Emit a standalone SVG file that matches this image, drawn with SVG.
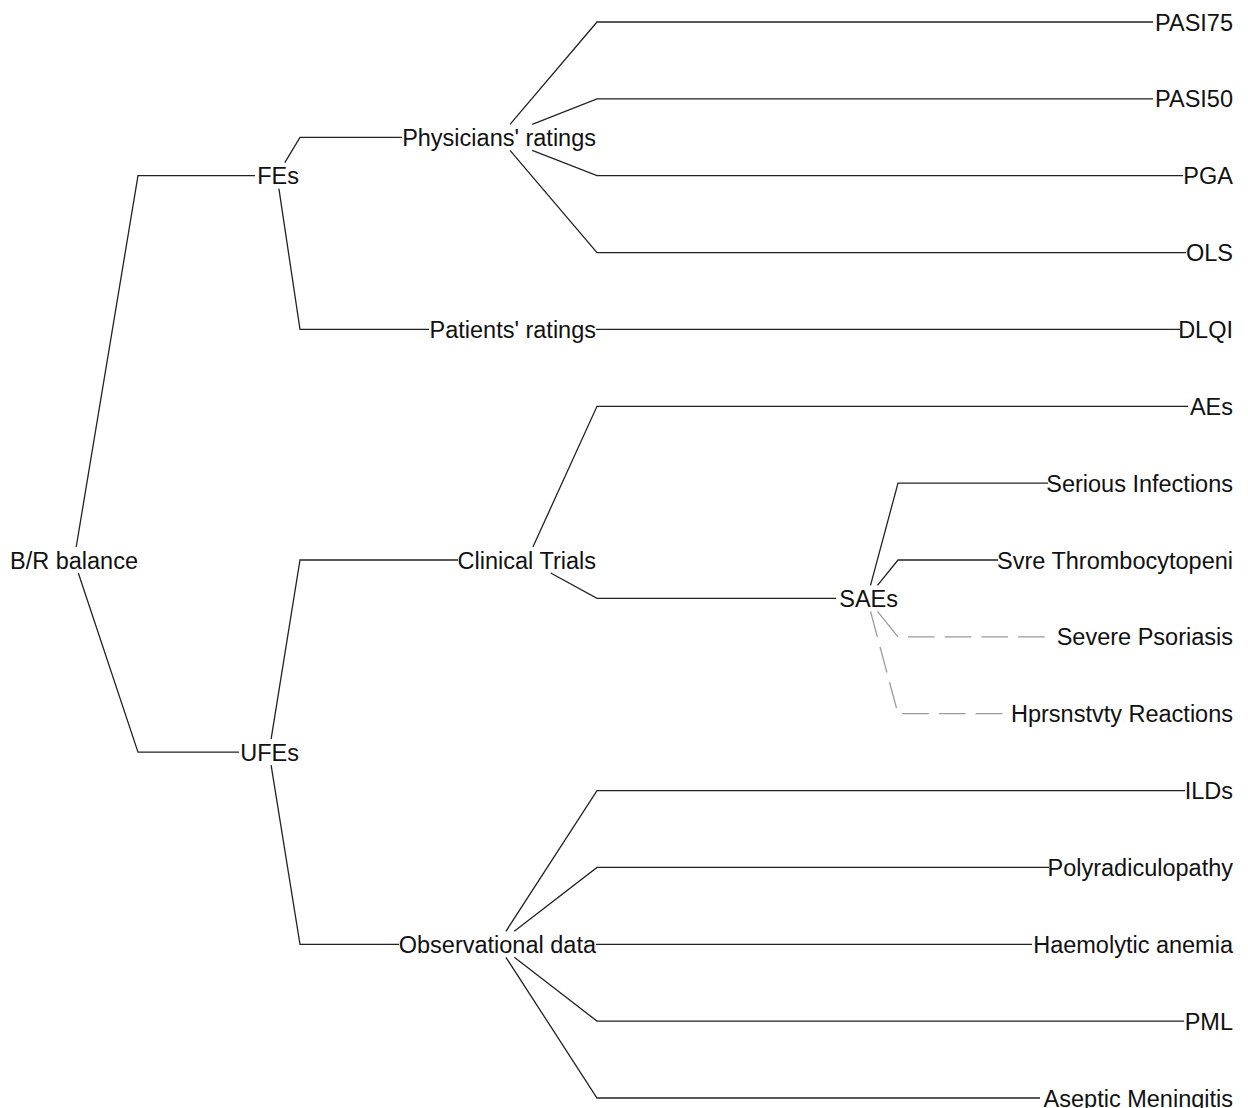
<svg xmlns="http://www.w3.org/2000/svg" width="1248" height="1108" viewBox="0 0 1248 1108">
<style>
.bg{fill:#ffffff}
.e{fill:none;stroke:#222222;stroke-width:1.3}
.d{fill:none;stroke:#9a9a9a;stroke-width:1.3}
text{font-family:"Liberation Sans",Arial,sans-serif;font-size:23.5px;fill:#111111;text-anchor:end}
</style>
<rect class="bg" x="0" y="0" width="1248" height="1108"/>
<g id="connectors">
<path class="e" d="M76.2 547 L138 175.7 H255"/>
<path class="e" d="M78.3 573 L138 752.1 H239"/>
<path class="e" d="M284.8 162.7 L300 137.3 H402"/>
<path class="e" d="M278.9 188.7 L300 329.4 H429"/>
<path class="e" d="M271.1 739.1 L300 560 H458"/>
<path class="e" d="M271.1 765.1 L300 944.3 H399"/>
<path class="e" d="M510 124.3 L597 22 H1153"/>
<path class="e" d="M532.2 124.3 L597 98.9 H1153"/>
<path class="e" d="M532.2 150.3 L597 175.7 H1183"/>
<path class="e" d="M510 150.3 L597 252.6 H1186"/>
<path class="e" d="M596 329.4 H1180"/>
<path class="e" d="M532.9 547 L597 406.3 H1188"/>
<path class="e" d="M550.7 573 L597 598.4 H836"/>
<path class="e" d="M870.5 585.4 L898 483.1 H1048"/>
<path class="e" d="M877.5 585.4 L898 560 H998"/>
<path class="d" stroke-dasharray="32.7 10 26.7 10 26.7 10 26.7 10 26.7 10" d="M877.5 611.4 L898 636.9 H1045"/>
<path class="d" stroke-dasharray="26.7 10" d="M870.5 611.4 L898 713.7 H1004"/>
<path class="e" d="M505.9 931.3 L597 790.6 H1185"/>
<path class="e" d="M514.3 931.3 L597 867.4 H1049"/>
<path class="e" d="M596 944.3 H1032"/>
<path class="e" d="M514.3 957.3 L597 1021.1 H1184"/>
<path class="e" d="M505.9 957.3 L597 1098 H1040"/>
</g>
<g id="node-root"><text x="138" y="568.5">B/R balance</text></g>
<g id="node-fes"><text x="299" y="184.2">FEs</text></g>
<g id="node-ufes"><text x="299" y="760.6">UFEs</text></g>
<g id="node-physicians"><text x="596" y="145.8">Physicians' ratings</text></g>
<g id="node-patients"><text x="596" y="337.9">Patients' ratings</text></g>
<g id="node-clinical"><text x="596" y="568.5">Clinical Trials</text></g>
<g id="node-observational"><text x="596" y="952.8">Observational data</text></g>
<g id="node-saes"><text x="898" y="606.9">SAEs</text></g>
<g id="node-pasi75"><text x="1233" y="30.5">PASI75</text></g>
<g id="node-pasi50"><text x="1233" y="107.4">PASI50</text></g>
<g id="node-pga"><text x="1233" y="184.2">PGA</text></g>
<g id="node-ols"><text x="1233" y="261.1">OLS</text></g>
<g id="node-dlqi"><text x="1233" y="337.9">DLQI</text></g>
<g id="node-aes"><text x="1233" y="414.8">AEs</text></g>
<g id="node-serious"><text x="1233" y="491.6">Serious Infections</text></g>
<g id="node-svre"><text x="1233" y="568.5">Svre Thrombocytopeni</text></g>
<g id="node-psoriasis"><text x="1233" y="645.4">Severe Psoriasis</text></g>
<g id="node-hprs"><text x="1233" y="722.2">Hprsnstvty Reactions</text></g>
<g id="node-ilds"><text x="1233" y="799.1">ILDs</text></g>
<g id="node-poly"><text x="1233" y="875.9">Polyradiculopathy</text></g>
<g id="node-haemo"><text x="1233" y="952.8">Haemolytic anemia</text></g>
<g id="node-pml"><text x="1233" y="1029.6">PML</text></g>
<g id="node-aseptic"><text x="1233" y="1106.5">Aseptic Meningitis</text></g>
</svg>
